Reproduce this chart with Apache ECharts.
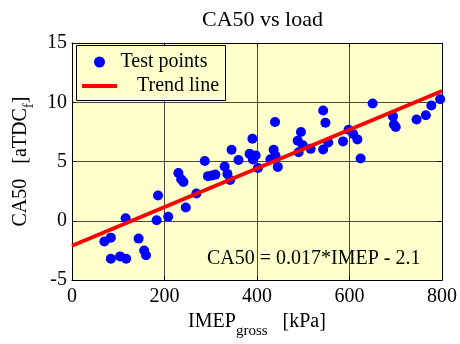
<!DOCTYPE html>
<html>
<head>
<meta charset="utf-8">
<script src="https://cdn.jsdelivr.net/npm/echarts@6/dist/echarts.min.js"></script>
<style>html,body{margin:0;padding:0;background:#fff}#c{width:460px;height:344px}</style>
</head>
<body>
<div id="c"></div>
<script>
const titleText = 'CA50 vs load';
const xTicks = [0, 200, 400, 600, 800];
const yTicks = [-5, 0, 5, 10, 15];
const imep = [70, 84, 84, 104, 117, 116, 144, 156, 160, 183, 186, 208, 230, 236, 241, 246, 269, 287, 294, 303, 310, 330, 336, 342, 345, 360, 384, 390, 391, 397, 402, 429, 436, 439, 440, 445, 488, 495, 490, 499, 516, 543, 548, 543, 554, 586, 598, 608, 617, 624, 650, 694, 696, 700, 745, 765, 777, 796];
const ca50 = [-1.75, -1.42, -3.2, -3.0, -3.2, 0.22, -1.5, -2.5, -2.9, 0.05, 2.13, 0.35, 4.04, 3.5, 3.28, 1.12, 2.3, 5.05, 3.77, 3.82, 3.9, 4.59, 3.96, 3.44, 6.0, 5.13, 5.65, 6.92, 5.17, 5.52, 4.45, 5.2, 6.0, 8.33, 5.49, 4.55, 6.76, 7.5, 5.78, 6.38, 6.07, 9.3, 8.28, 6.02, 6.6, 6.7, 7.68, 7.33, 6.87, 5.26, 9.89, 8.81, 8.12, 7.92, 8.55, 8.9, 9.73, 10.25];
const trendX = [0, 800];
const trendY = [-2.1, 10.95];
const equationText = 'CA50 = 0.017*IMEP - 2.1';

const FONT = '"Liberation Serif", "Times New Roman", serif';
const chart = echarts.init(document.getElementById('c'), null, {renderer: 'canvas'});
const pts = imep.map((x, i) => [x, ca50[i]]);
const trend = trendX.map((x, i) => [x, trendY[i]]);

chart.setOption({
  animation: false,
  backgroundColor: '#ffffff',
  title: {
    text: titleText, left: 257.5, top: 4, textAlign: 'center',
    textStyle: {fontFamily: FONT, fontSize: 22, fontWeight: 'normal', color: '#000'}
  },
  grid: {left: 72, top: 43, width: 371, height: 244, show: true, backgroundColor: '#FFFFCC', borderWidth: 0},
  legend: [
    {data: [{name: 'Test points', icon: 'circle'}], left: 94, top: 52, padding: 0, itemWidth: 32, itemHeight: 11, itemGap: 0, z: 10,
     textStyle: {fontFamily: FONT, fontSize: 20, color: '#000', lineHeight: 20}},
    {data: [{name: 'Trend line', icon: 'rect'}], left: 82, top: 76, padding: 0, itemWidth: 35, itemHeight: 4, itemGap: 0, z: 10,
     textStyle: {fontFamily: FONT, fontSize: 20, color: '#000', lineHeight: 20, padding: [0, 0, 0, 15]}}
  ],
  graphic: [
    {type: 'rect', z: 5, shape: {x: 76.5, y: 45.5, width: 149, height: 55}, style: {fill: '#FFFFCC', stroke: '#000', lineWidth: 1}},
    {type: 'text', z: 6, style: {x: 207, y: 259, text: equationText, verticalAlign: 'middle', font: '20px ' + FONT, fill: '#000'}}
  ],
  xAxis: [
    {type: 'value', min: xTicks[0], max: xTicks[xTicks.length - 1], interval: 200, position: 'bottom',
     name: '{a|IMEP}{s|gross}{a|   [kPa]}', nameLocation: 'middle', nameGap: 24,
     nameTextStyle: {rich: {
       a: {fontFamily: FONT, fontSize: 20, color: '#000', verticalAlign: 'top', lineHeight: 22},
       s: {fontFamily: FONT, fontSize: 15, color: '#000', verticalAlign: 'top', lineHeight: 22, padding: [12, 0, 0, 0]}
     }},
     axisLine: {show: true, onZero: false, lineStyle: {color: '#000', width: 1}},
     axisTick: {show: true, inside: true, length: 4, lineStyle: {color: '#000'}},
     axisLabel: {fontFamily: FONT, fontSize: 20, color: '#000', margin: 7},
     splitLine: {show: true, lineStyle: {color: '#4a4a3c', width: 1}}},
    {type: 'value', min: xTicks[0], max: xTicks[xTicks.length - 1], interval: 200, position: 'top',
     axisLine: {show: true, onZero: false, lineStyle: {color: '#000', width: 1}},
     axisTick: {show: true, inside: true, length: 4, lineStyle: {color: '#000'}},
     axisLabel: {show: false}, splitLine: {show: false}}
  ],
  yAxis: [
    {type: 'value', min: yTicks[0], max: yTicks[yTicks.length - 1], interval: 5, position: 'left',
     name: '{a|CA50   [aTDC}{s|f}{a|]}', nameLocation: 'middle', nameGap: 36, nameRotate: 90,
     nameTextStyle: {rich: {
       a: {fontFamily: FONT, fontSize: 20, color: '#000', verticalAlign: 'top', lineHeight: 22},
       s: {fontFamily: FONT, fontSize: 15, color: '#000', verticalAlign: 'top', lineHeight: 22, padding: [10, 0, 0, 0]}
     }},
     axisLine: {show: true, onZero: false, lineStyle: {color: '#000', width: 1}},
     axisTick: {show: true, inside: true, length: 4, lineStyle: {color: '#000'}},
     axisLabel: {fontFamily: FONT, fontSize: 20, color: '#000', margin: 5},
     splitLine: {show: true, lineStyle: {color: '#4a4a3c', width: 1}}},
    {type: 'value', min: yTicks[0], max: yTicks[yTicks.length - 1], interval: 5, position: 'right',
     axisLine: {show: true, onZero: false, lineStyle: {color: '#000', width: 1}},
     axisTick: {show: true, inside: true, length: 4, lineStyle: {color: '#000'}},
     axisLabel: {show: false}, splitLine: {show: false}}
  ],
  series: [
    {name: 'Test points', type: 'scatter', data: pts, symbol: 'circle', symbolSize: 10,
     itemStyle: {color: '#0000FF', opacity: 1}, z: 3},
    {name: 'Trend line', type: 'line', data: trend, showSymbol: false, symbol: 'none',
     lineStyle: {color: '#FF0000', width: 4}, itemStyle: {color: '#FF0000'}, z: 4}
  ]
});
</script>
</body>
</html>
